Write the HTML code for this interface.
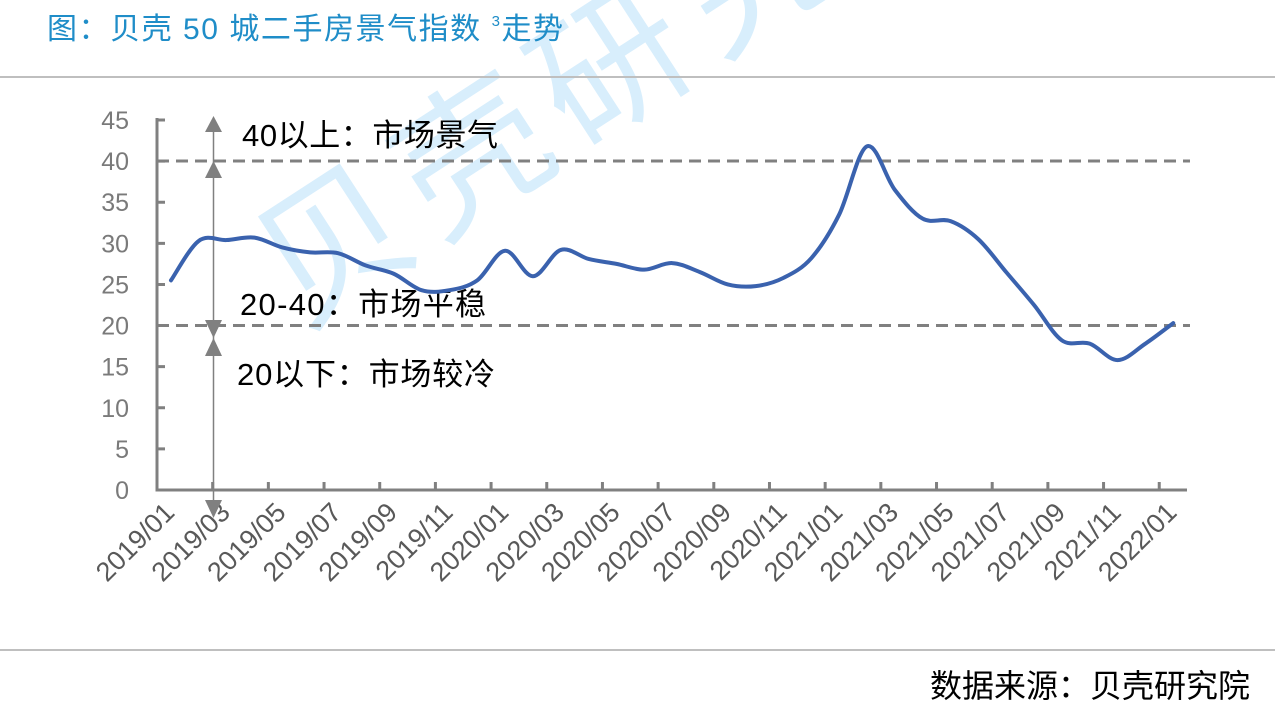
<!DOCTYPE html>
<html><head><meta charset="utf-8"><style>
body{margin:0;background:#fff;}
svg{display:block;font-family:"Liberation Sans","Noto Sans CJK SC",sans-serif;}
</style></head><body>
<svg id="s" width="1275" height="723" viewBox="0 0 1275 723" xmlns="http://www.w3.org/2000/svg">
<g fill="#d8eefc" font-size="150" font-family="'Noto Sans CJK SC',sans-serif">
<text transform="translate(300,330) rotate(-33)" letter-spacing="15">贝壳研究院</text>
</g>
<text x="47" y="39" font-size="30" fill="#1f8dc8" textLength="516">图：贝壳 50 城二手房景气指数 <tspan font-size="15" dy="-13">3</tspan><tspan dy="13">走势</tspan></text>
<line x1="0" y1="77" x2="1275" y2="77" stroke="#bfbfbf" stroke-width="2"/>
<line x1="0" y1="650" x2="1275" y2="650" stroke="#bfbfbf" stroke-width="2"/>
<text x="1250" y="697" font-size="32" text-anchor="end" fill="#000">数据来源：贝壳研究院</text>
<g id="ax" stroke="#808080" stroke-width="3" fill="none"></g>
<g id="yl" font-size="25" fill="#7a7a7a" text-anchor="end"></g>
<g id="xl" font-size="27" fill="#595959" text-anchor="end"></g>
<line x1="157" y1="161" x2="1190" y2="161" stroke="#808080" stroke-width="3" stroke-dasharray="12,7"/>
<line x1="157" y1="325.5" x2="1190" y2="325.5" stroke="#808080" stroke-width="3" stroke-dasharray="12,7"/>
<line x1="213.5" y1="125" x2="213.5" y2="505" stroke="#808080" stroke-width="1.5"/>
<g fill="#808080">
<polygon points="213.5,116 205,132 222,132"/>
<polygon points="213.5,161 205,178 222,178"/>
<polygon points="213.5,338 205,320 222,320"/>
<polygon points="213.5,338 205,356 222,356"/>
<polygon points="213.5,518 205,500 222,500"/>
</g>
<g font-size="31" fill="#000">
<text x="242" y="146" textLength="256">40以上：市场景气</text>
<text x="240" y="315" textLength="246">20-40：市场平稳</text>
<text x="237" y="385" textLength="258">20以下：市场较冷</text>
</g>
<path id="ln" fill="none" stroke="#3a62ae" stroke-width="4" stroke-linejoin="round" stroke-linecap="round"/>
</svg>
<script>
function Y(v){return 490-v*8.222;}
var ax=document.getElementById('ax');
var d="M157 118 V490 H1187";
for(var v=0;v<=45;v+=5){d+=" M157 "+Y(v)+" h8";}
for(var k=2;k<=37;k+=2){var x=157+k*27.84;d+=" M"+x+" 490 v-8";}
ax.innerHTML='<path d="'+d+'"/>';
var yl=document.getElementById('yl'),s="";
for(var v=0;v<=45;v+=5){s+='<text x="129" y="'+(Y(v)+9)+'">'+v+'</text>';}
yl.innerHTML=s;
var xl=document.getElementById('xl');s="";
var labs=["2019/01","2019/03","2019/05","2019/07","2019/09","2019/11","2020/01","2020/03","2020/05","2020/07","2020/09","2020/11","2021/01","2021/03","2021/05","2021/07","2021/09","2021/11","2022/01"];
for(var i=0;i<labs.length;i++){var x=171+i*2*27.84+5;s+='<text transform="translate('+x+',514) rotate(-45)">'+labs[i]+'</text>';}
xl.innerHTML=s;
var vals=[25.5,30.3,30.4,30.7,29.5,28.9,28.8,27.3,26.3,24.3,24.3,25.5,29.1,26.0,29.2,28.1,27.5,26.8,27.6,26.5,25.0,24.8,25.8,28.2,33.5,41.8,36.5,33.0,32.7,30.5,26.5,22.5,18.2,17.8,15.8,17.8,20.3];
var p=vals.map(function(v,i){return [171+i*27.84,Y(v)];});
var dd="M"+p[0][0]+" "+p[0][1];
for(var i=0;i<p.length-1;i++){
 var p0=p[i-1]||p[i],p1=p[i],p2=p[i+1],p3=p[i+2]||p[i+1],t=6;
 dd+=" C"+(p1[0]+(p2[0]-p0[0])/t)+" "+(p1[1]+(p2[1]-p0[1])/t)+" "+(p2[0]-(p3[0]-p1[0])/t)+" "+(p2[1]-(p3[1]-p1[1])/t)+" "+p2[0]+" "+p2[1];
}
document.getElementById('ln').setAttribute('d',dd);
</script>
</body></html>
